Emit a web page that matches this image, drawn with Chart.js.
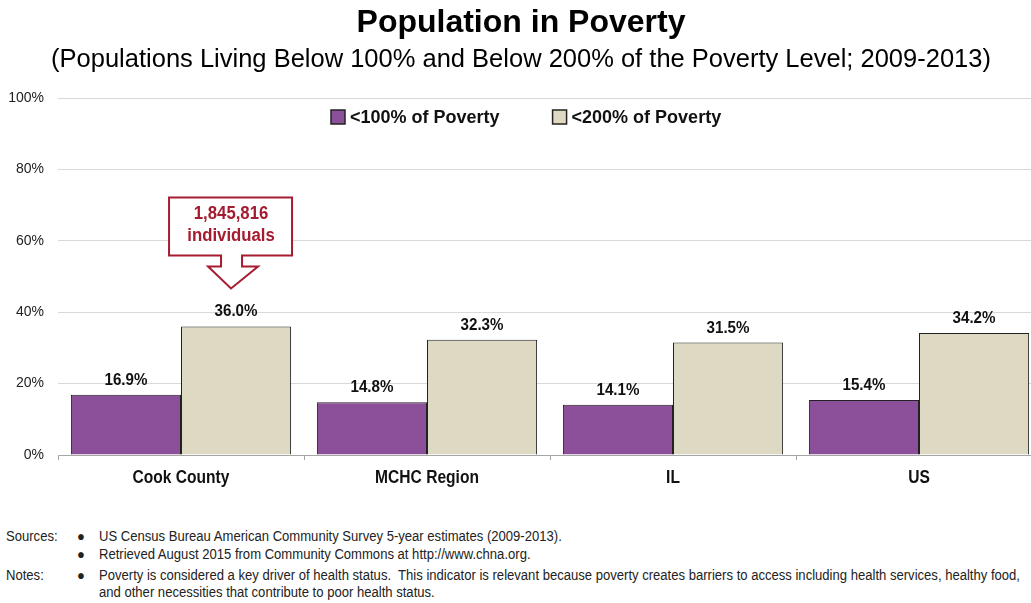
<!DOCTYPE html>
<html lang="en">
<head>
<meta charset="UTF-8">
<title>Population in Poverty</title>
<script src="https://cdn.jsdelivr.net/npm/chart.js"></script>
<style>
    body { margin: 0; background: #fff; }
    #wrap { position: relative; width: 1031px; height: 603px; overflow: hidden; }
    #chart { position: absolute; left: 0; top: 0; }
    .note { position: absolute; font-family: "Liberation Sans", Arial, sans-serif; font-size: 14px; color: #222; line-height: 18px; white-space: nowrap; transform-origin: 0 0; }
</style>
</head>
<body>
<div id="wrap">
    <!-- canvas is a bit wider than the page: the last category runs off the right edge like the original -->
    <canvas id="chart" width="1043" height="500"></canvas>
    <div class="note" style="left:6px; top:527px;">Sources:</div>
    <div class="note" style="left:77px; top:527px;">●</div>
    <div class="note" style="left:99px; top:527px;">US Census Bureau American Community Survey 5-year estimates (2009-2013).</div>
    <div class="note" style="left:77px; top:545px;">●</div>
    <div class="note" style="left:99px; top:545px;">Retrieved August 2015 from Community Commons at http://www.chna.org.</div>
    <div class="note" style="left:6px; top:566px;">Notes:</div>
    <div class="note" style="left:77px; top:566px;">●</div>
    <div class="note" id="longNote" style="left:99px; top:566px;">Poverty is considered a key driver of health status.&nbsp; This indicator is relevant because poverty creates barriers to access including health services, healthy food,</div>
    <div class="note" style="left:99px; top:583px;">and other necessities that contribute to poor health status.</div>
</div>

<script>
    // data
    var regions = ['Cook County', 'MCHC Region', 'IL', 'US'];
    var below100 = [16.9, 14.8, 14.1, 15.4];
    var below200 = [36.0, 32.3, 31.5, 34.2];
    var seriesNames = ['<100% of Poverty', '<200% of Poverty'];
    var yTicks = [0, 20, 40, 60, 80, 100];
    var calloutLines = ['1,845,816', 'individuals'];

    var colors = ['#8c4f99', '#ddd9c3'];
    var red = '#a51c30';
    var sans = '"Liberation Sans", Arial, sans-serif';

    // no narrow font installed, so squeeze the text horizontally
    function squeezeText(ctx, text, x, y, sx) {
        ctx.save();
        ctx.translate(x, y);
        ctx.scale(sx, 1);
        ctx.fillText(text, 0, 0);
        ctx.restore();
    }

    // footnotes were set in a condensed face too
    var notes = document.querySelectorAll('.note');
    var longW = document.getElementById('longNote').getBoundingClientRect().width;
    var sxNotes = 921 / longW;
    notes.forEach(function (n) { n.style.transform = 'scaleX(' + sxNotes + ')'; });

    // value labels above bars
    var valueLabels = {
        id: 'valueLabels',
        afterDatasetsDraw: function (chart) {
            var ctx = chart.ctx;
            ctx.save();
            ctx.font = 'bold 17px ' + sans;
            ctx.fillStyle = '#111';
            ctx.textAlign = 'center';
            ctx.textBaseline = 'alphabetic';
            // "16.9%" is about 43px wide in the original
            var sx = 43 / ctx.measureText('16.9%').width;
            chart.data.datasets.forEach(function (ds, i) {
                chart.getDatasetMeta(i).data.forEach(function (bar, j) {
                    squeezeText(ctx, ds.data[j].toFixed(1) + '%', bar.x, bar.y - 10, sx);
                });
            });
            ctx.restore();
        }
    };

    // category names under the axis
    var categoryLabels = {
        id: 'categoryLabels',
        afterDraw: function (chart) {
            var ctx = chart.ctx;
            var xs = chart.scales.x;
            ctx.save();
            ctx.font = 'bold 19px ' + sans;
            ctx.fillStyle = '#111';
            ctx.textAlign = 'center';
            ctx.textBaseline = 'middle';
            regions.forEach(function (r, i) {
                squeezeText(ctx, r, xs.getPixelForTick(i), chart.chartArea.bottom + 23, 0.82);
            });
            ctx.restore();
        }
    };

    // legend drawn inside the plot area
    var insideLegend = {
        id: 'insideLegend',
        afterDraw: function (chart) {
            var ctx = chart.ctx;
            ctx.save();
            ctx.font = 'bold 18px ' + sans;
            ctx.textBaseline = 'middle';
            var x = 331, y = 117;
            chart.data.datasets.forEach(function (ds) {
                ctx.fillStyle = ds.backgroundColor;
                ctx.fillRect(x, y - 7, 14, 14);
                ctx.strokeStyle = '#222';
                ctx.lineWidth = 1.5;
                ctx.strokeRect(x, y - 7, 14, 14);
                ctx.fillStyle = '#111';
                ctx.fillText(ds.label, x + 19, y + 1);
                x += 19 + ctx.measureText(ds.label).width + 53;
            });
            ctx.restore();
        }
    };

    // callout arrow over Cook County
    var callout = {
        id: 'callout',
        afterDraw: function (chart) {
            var ctx = chart.ctx;
            var bar = chart.getDatasetMeta(1).data[0];
            var cx = bar.x - 5;
            var tip = bar.y - 38;
            ctx.save();
            ctx.strokeStyle = red;
            ctx.lineWidth = 2;
            ctx.fillStyle = '#fff';
            ctx.beginPath();
            ctx.moveTo(cx - 62, tip - 91);
            ctx.lineTo(cx + 61, tip - 91);
            ctx.lineTo(cx + 61, tip - 33);
            ctx.lineTo(cx + 11, tip - 33);
            ctx.lineTo(cx + 11, tip - 22);
            ctx.lineTo(cx + 27, tip - 22);
            ctx.lineTo(cx, tip);
            ctx.lineTo(cx - 23, tip - 22);
            ctx.lineTo(cx - 10, tip - 22);
            ctx.lineTo(cx - 10, tip - 33);
            ctx.lineTo(cx - 62, tip - 33);
            ctx.closePath();
            ctx.fill();
            ctx.stroke();
            ctx.fillStyle = red;
            ctx.font = 'bold 18px ' + sans;
            ctx.textAlign = 'center';
            ctx.textBaseline = 'middle';
            squeezeText(ctx, calloutLines[0], cx, tip - 74, 0.93);
            squeezeText(ctx, calloutLines[1], cx, tip - 52, 0.93);
            ctx.restore();
        }
    };

    var ctx = document.getElementById('chart').getContext('2d');
    var chart = new Chart(ctx, {
        type: 'bar',
        data: {
            labels: regions,
            datasets: [{
                label: seriesNames[0],
                data: below100,
                backgroundColor: colors[0],
                borderColor: '#222',
                borderWidth: 1
            }, {
                label: seriesNames[1],
                data: below200,
                backgroundColor: colors[1],
                borderColor: '#222',
                borderWidth: 1
            }]
        },
        options: {
            responsive: false,
            animation: false,
            layout: { padding: { top: 0, right: 1, left: 0, bottom: 0 } },
            datasets: {
                bar: { categoryPercentage: 0.895, barPercentage: 1 }
            },
            plugins: {
                legend: { display: false },
                tooltip: { enabled: false },
                title: {
                    display: true,
                    text: 'Population in Poverty',
                    color: '#000',
                    font: { family: sans, size: 32, weight: 'bold' },
                    padding: { top: 4, bottom: 0 }
                },
                subtitle: {
                    display: true,
                    text: '(Populations Living Below 100% and Below 200% of the Poverty Level; 2009-2013)',
                    color: '#000',
                    font: { family: sans, size: 25.5 },
                    padding: { top: 2.5, bottom: 22.5 }
                }
            },
            scales: {
                x: {
                    offset: true,
                    grid: { offset: true, drawOnChartArea: false, drawTicks: true, tickLength: 5, color: '#a6a6a6' },
                    border: { color: '#a6a6a6' },
                    ticks: { display: false },
                    afterFit: function (s) { s.height = 45; }
                },
                y: {
                    min: 0,
                    max: 100,
                    afterBuildTicks: function (s) { s.ticks = yTicks.map(function (v) { return { value: v }; }); },
                    grid: { color: '#d9d9d9', drawTicks: false },
                    border: { display: false },
                    ticks: {
                        color: '#222',
                        padding: 14,
                        font: { family: sans, size: 14 },
                        callback: function (v) { return v + '%'; }
                    },
                    afterFit: function (s) { s.width = 58; }
                }
            }
        },
        plugins: [valueLabels, categoryLabels, insideLegend, callout]
    });
</script>
</body>
</html>
